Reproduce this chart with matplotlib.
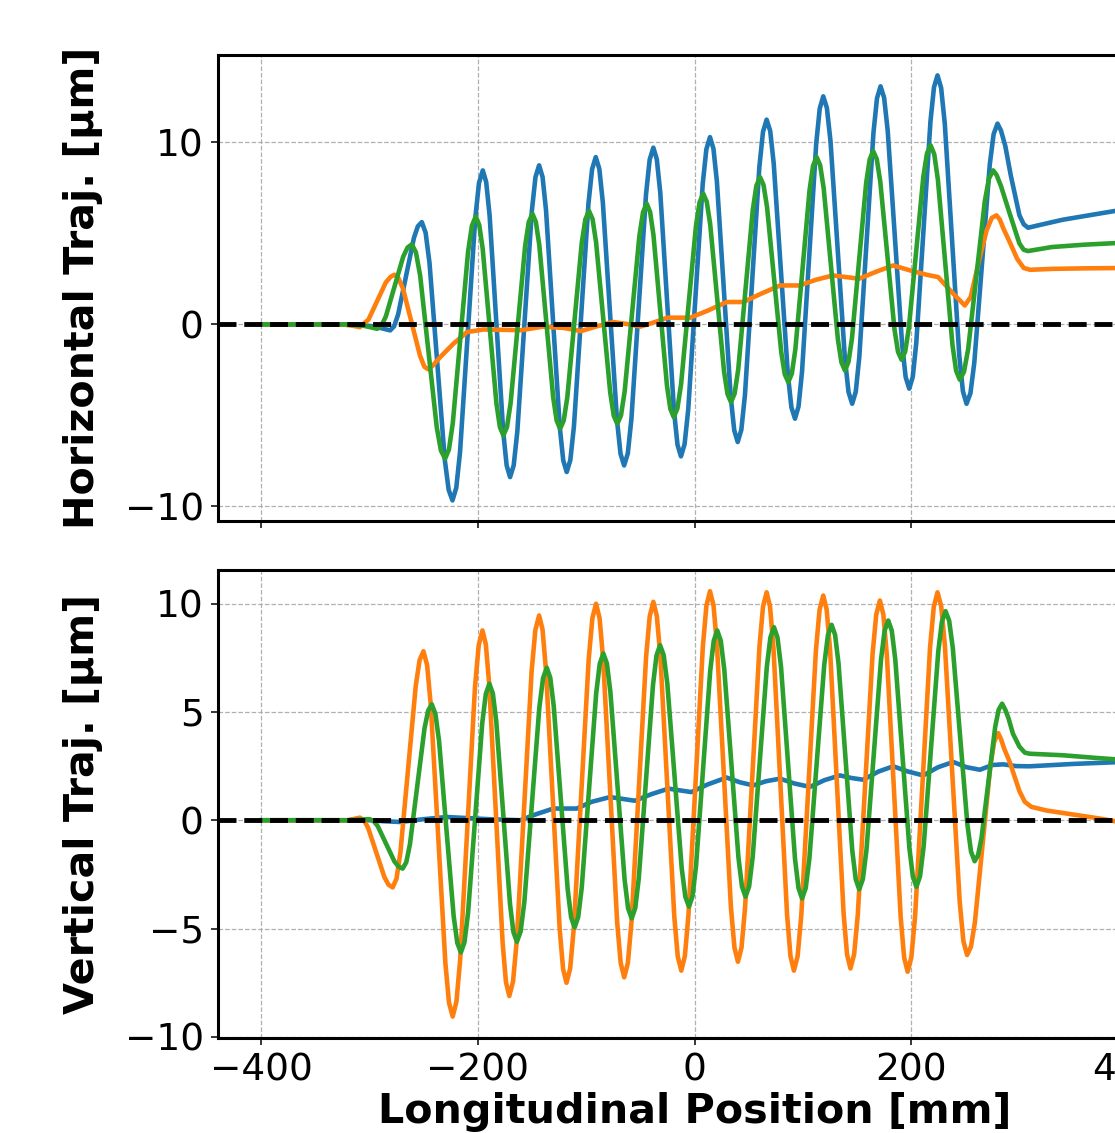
import numpy as np
import matplotlib
matplotlib.use("Agg")
import matplotlib.pyplot as plt

# ---------------- data ----------------
# Horizontal trajectory [um] vs longitudinal position [mm]
h_blue = [(-400, 0), (-330, 0), (-310, -0.02), (-295, -0.12), (-281, -0.33), (-277.35, -0.10), (-273.7, 0.54),
          (-266.4, 2.65), (-259.1, 4.75), (-255.45, 5.39), (-251.8, 5.62), (-248.3, 5.04), (-244.7, 3.38),
          (-237.65, -2.03), (-230.6, -7.43), (-227.0, -9.09), (-223.5, -9.67), (-220.0, -8.98), (-216.5, -7.01),
          (-209.5, -0.61), (-202.5, 5.80), (-199.0, 7.77), (-195.5, 8.46), (-192.35, 7.82), (-189.2, 5.99),
          (-182.9, 0.04), (-176.6, -5.92), (-173.45, -7.75), (-170.3, -8.39), (-166.95, -7.74), (-163.6, -5.88),
          (-156.9, 0.18), (-150.2, 6.23), (-146.85, 8.09), (-143.5, 8.74), (-140.3, 8.10), (-137.1, 6.27),
          (-130.75, 0.32), (-124.4, -5.64), (-121.2, -7.47), (-118, -8.11), (-114.65, -7.45), (-111.3, -5.58),
          (-104.6, 0.54), (-97.9, 6.66), (-94.55, 8.53), (-91.2, 9.19), (-87.9, 8.55), (-84.65, 6.71),
          (-78.1, 0.72), (-71.55, -5.27), (-68.3, -7.11), (-65, -7.75), (-61.6, -7.09), (-58.25, -5.19),
          (-51.5, 0.98), (-44.75, 7.15), (-41.4, 9.05), (-38, 9.71), (-34.8, 9.07), (-31.6, 7.23),
          (-25.25, 1.23), (-18.9, -4.77), (-15.7, -6.61), (-12.5, -7.25), (-9.15, -6.58), (-5.8, -4.68),
          (0.9, 1.52), (7.6, 7.72), (10.95, 9.62), (14.3, 10.29), (17.5, 9.65), (20.7, 7.84), (27.1, 1.92),
          (33.5, -4.01), (36.7, -5.82), (39.9, -6.46), (43.25, -5.79), (46.6, -3.87), (53.25, 2.40), (59.9, 8.66),
          (63.25, 10.58), (66.6, 11.25), (69.9, 10.63), (73.15, 8.84), (79.7, 3.04), (86.25, -2.77),
          (89.5, -4.56), (92.8, -5.18), (96.05, -4.51), (99.3, -2.59), (105.85, 3.68), (112.4, 9.94),
          (115.65, 11.86), (118.9, 12.53), (122.25, 11.89), (125.6, 10.06), (132.25, 4.09), (138.9, -1.89),
          (142.25, -3.72), (145.6, -4.36), (148.9, -3.70), (152.15, -1.81), (158.7, 4.36), (165.25, 10.53),
          (168.5, 12.42), (171.8, 13.08), (175.1, 12.45), (178.4, 10.65), (185.05, 4.78), (191.7, -1.10),
          (195.0, -2.90), (198.3, -3.53), (201.55, -2.88), (204.8, -1.01), (211.35, 5.08), (217.9, 11.16),
          (221.15, 13.03), (224.4, 13.68), (227.75, 12.99), (231.1, 11.04), (237.8, 4.66), (244.5, -1.72),
          (247.85, -3.67), (251.2, -4.36), (254.8, -3.78), (258.35, -2.11), (265.5, 3.34), (272.65, 8.78),
          (276.2, 10.45), (279.8, 11.03), (283, 10.65), (287, 9.8), (292, 8.2), (300, 6.0), (304, 5.5),
          (308, 5.31), (318, 5.45), (340, 5.75), (370, 6.05), (400, 6.35)]

h_orange = [(-400, 0), (-325, 0), (-315, -0.08), (-309, -0.15), (-301, 0.27), (-293, 1.29), (-285, 2.31),
            (-280.5, 2.62), (-277, 2.73), (-273.5, 2.55), (-269.2, 1.97), (-261.35, 0.13), (-253.5, -1.71),
            (-249.4, -2.33), (-245.7, -2.47), (-241.5, -2.25), (-234.9, -1.8), (-222.6, -1.06), (-210, -0.42),
            (-195, -0.28), (-175, -0.3), (-160, -0.32), (-140, -0.12), (-120, -0.2), (-105, -0.37), (-90, -0.1),
            (-75, 0.13), (-60, 0.0), (-50, -0.12), (-38, 0.1), (-25, 0.37), (-4, 0.37), (12, 0.75), (29.7, 1.23),
            (45, 1.23), (62, 1.7), (79, 2.14), (97, 2.14), (112, 2.45), (128, 2.69), (152, 2.51), (168, 2.9),
            (183.5, 3.24), (200, 2.95), (215, 2.72), (225, 2.6), (238.9, 1.69), (249.6, 1.04), (255, 1.5),
            (263.5, 3.7), (269.7, 5.16), (274.5, 5.85), (278.9, 5.99), (282, 5.75), (285, 5.3), (292, 4.4),
            (298, 3.6), (304, 3.1), (310, 3.0), (330, 3.05), (360, 3.08), (400, 3.1)]

h_green = [(-400, 0), (-320, 0), (-305, -0.08), (-293, -0.24), (-289, -0.06), (-285, 0.44), (-277, 2.08),
           (-269, 3.72), (-265, 4.22), (-261, 4.40), (-257.2, 3.95), (-253.3, 2.67), (-245.65, -1.49),
           (-238, -5.65), (-234.15, -6.93), (-230.3, -7.38), (-226.75, -6.87), (-223.2, -5.43), (-216.15, -0.73),
           (-209.1, 3.98), (-205.55, 5.42), (-202, 5.93), (-198.8, 5.47), (-195.6, 4.17), (-189.25, -0.09),
           (-182.9, -4.34), (-179.7, -5.64), (-176.5, -6.10), (-173.15, -5.64), (-169.8, -4.32), (-163.1, -0.01),
           (-156.4, 4.30), (-153.05, 5.62), (-149.7, 6.08), (-146.5, 5.63), (-143.3, 4.35), (-136.9, 0.18),
           (-130.5, -4.0), (-127.3, -5.28), (-124.1, -5.73), (-120.75, -5.28), (-117.4, -3.98), (-110.75, 0.25),
           (-104.1, 4.48), (-100.75, 5.78), (-97.4, 6.23), (-94.15, 5.79), (-90.9, 4.52), (-84.35, 0.39),
           (-77.8, -3.75), (-74.55, -5.02), (-71.3, -5.46), (-67.9, -5.00), (-64.5, -3.69), (-57.7, 0.59),
           (-50.9, 4.86), (-47.5, 6.17), (-44.1, 6.63), (-41.0, 6.18), (-37.9, 4.91), (-31.65, 0.77),
           (-25.4, -3.37), (-22.3, -4.64), (-19.2, -5.09), (-15.8, -4.62), (-12.4, -3.29), (-5.55, 1.05),
           (1.3, 5.38), (4.7, 6.71), (8.1, 7.18), (11.3, 6.74), (14.5, 5.50), (20.9, 1.46), (27.3, -2.59),
           (30.5, -3.83), (33.7, -4.27), (37.05, -3.80), (40.4, -2.46), (47.1, 1.91), (53.8, 6.28), (57.15, 7.62),
           (60.5, 8.09), (63.75, 7.66), (67.0, 6.44), (73.55, 2.46), (80.1, -1.52), (83.35, -2.74), (86.6, -3.17),
           (89.9, -2.70), (93.15, -1.36), (99.7, 3.01), (106.25, 7.38), (109.5, 8.72), (112.8, 9.19),
           (116.05, 8.74), (119.3, 7.47), (125.85, 3.33), (132.4, -0.81), (135.65, -2.08), (138.9, -2.53),
           (142.15, -2.07), (145.4, -0.77), (151.95, 3.50), (158.5, 7.76), (161.75, 9.06), (165, 9.52),
           (168.3, 9.08), (171.55, 7.84), (178.1, 3.79), (184.65, -0.26), (187.9, -1.50), (191.2, -1.94),
           (194.55, -1.49), (197.9, -0.21), (204.6, 3.95), (211.3, 8.11), (214.65, 9.39), (218, 9.84),
           (221.4, 9.35), (224.75, 7.95), (231.5, 3.40), (238.25, -1.15), (241.6, -2.55), (245, -3.04),
           (248.85, -2.60), (252.7, -1.36), (260.4, 2.71), (268.1, 6.78), (271.95, 8.02), (275.8, 8.46),
           (279, 8.2), (283, 7.6), (291, 6.1), (300, 4.45), (304, 4.1), (308, 4.03), (330, 4.25), (360, 4.38),
           (400, 4.5)]

# Vertical trajectory [um] vs longitudinal position [mm]
v_blue = [(-400, 0), (-300, 0), (-285, -0.05), (-272, -0.08), (-250, 0.05), (-228.7, 0.15), (-210, 0.1),
          (-190, 0.05), (-161, 0.0), (-145, 0.3), (-130.3, 0.54), (-108.7, 0.54), (-95, 0.85), (-78, 1.07),
          (-55, 0.9), (-40, 1.2), (-24, 1.46), (-3, 1.3), (12, 1.65), (29.7, 1.97), (42, 1.75), (54.3, 1.61),
          (66, 1.8), (78.9, 1.92), (92, 1.7), (106.6, 1.54), (120, 1.85), (134.3, 2.07), (145, 1.95),
          (155.8, 1.87), (170, 2.25), (183.5, 2.49), (197, 2.25), (211.2, 2.07), (225, 2.45), (238.9, 2.69),
          (251, 2.45), (263.5, 2.33), (275, 2.55), (285, 2.58), (297, 2.5), (309.6, 2.49), (350, 2.6),
          (400, 2.7)]

v_orange = [(-400, 0), (-320, 0), (-309, 0.12), (-305.2, 0.0), (-301.4, -0.35), (-293.85, -1.49),
            (-286.3, -2.63), (-282.5, -2.98), (-278.7, -3.10), (-275.15, -2.69), (-271.6, -1.50), (-264.5, 2.35),
            (-257.4, 6.20), (-253.85, 7.39), (-250.3, 7.80), (-246.9, 7.16), (-243.55, 5.33), (-236.8, -0.63),
            (-230.05, -6.59), (-226.7, -8.42), (-223.3, -9.06), (-219.85, -8.38), (-216.4, -6.45),
            (-209.55, -0.15), (-202.7, 6.15), (-199.25, 8.08), (-195.8, 8.76), (-192.7, 8.12), (-189.6, 6.29),
            (-183.4, 0.33), (-177.2, -5.64), (-174.1, -7.47), (-171, -8.11), (-167.55, -7.44), (-164.1, -5.54),
            (-157.25, 0.67), (-150.4, 6.88), (-146.95, 8.78), (-143.5, 9.45), (-140.35, 8.81), (-137.2, 6.97),
            (-130.85, 0.98), (-124.5, -5.02), (-121.35, -6.86), (-118.2, -7.50), (-114.8, -6.84), (-111.4, -4.94),
            (-104.55, 1.25), (-97.7, 7.43), (-94.3, 9.33), (-90.9, 9.99), (-87.65, 9.33), (-84.4, 7.46),
            (-77.9, 1.37), (-71.4, -4.72), (-68.15, -6.59), (-64.9, -7.25), (-61.55, -6.59), (-58.2, -4.71),
            (-51.45, 1.42), (-44.7, 7.54), (-41.35, 9.42), (-38, 10.08), (-34.8, 9.43), (-31.55, 7.59),
            (-25.1, 1.57), (-18.65, -4.45), (-15.45, -6.29), (-12.2, -6.94), (-8.9, -6.27), (-5.6, -4.38),
            (1.05, 1.82), (7.7, 8.01), (11.0, 9.90), (14.3, 10.57), (17.55, 9.92), (20.75, 8.07), (27.2, 2.02),
            (33.65, -4.03), (36.9, -5.88), (40.1, -6.53), (43.4, -5.88), (46.7, -4.03), (53.35, 2.00),
            (60.0, 8.02), (63.3, 9.87), (66.6, 10.52), (69.75, 9.86), (72.9, 7.96), (79.2, 1.79), (85.5, -4.38),
            (88.65, -6.28), (91.8, -6.94), (95.2, -6.28), (98.6, -4.40), (105.35, 1.72), (112.1, 7.83),
            (115.5, 9.71), (118.9, 10.37), (122.05, 9.72), (125.2, 7.85), (131.45, 1.77), (137.7, -4.32),
            (140.85, -6.19), (144, -6.84), (147.4, -6.19), (150.8, -4.35), (157.6, 1.65), (164.4, 7.65),
            (167.8, 9.49), (171.2, 10.14), (174.4, 9.49), (177.6, 7.63), (184.0, 1.58), (190.4, -4.48),
            (193.6, -6.34), (196.8, -6.99), (200.25, -6.32), (203.7, -4.43), (210.6, 1.77), (217.5, 7.96),
            (220.95, 9.85), (224.4, 10.52), (227.8, 9.88), (231.2, 8.07), (238.05, 2.15), (244.9, -3.77),
            (248.3, -5.58), (251.7, -6.22), (255.3, -5.83), (258.9, -4.72), (266.05, -1.10), (273.2, 2.52),
            (276.8, 3.63), (280.4, 4.02), (283, 3.75), (286, 3.3), (291, 2.7), (300, 1.35), (305, 0.85),
            (311, 0.62), (325, 0.45), (343.5, 0.31), (374, 0.08), (400, -0.15)]

v_green = [(-400, 0), (-320, 0), (-300, 0.05), (-296.2, -0.04), (-292.4, -0.28), (-284.75, -1.09),
           (-277.1, -1.90), (-273.3, -2.14), (-269.5, -2.23), (-266.15, -1.94), (-262.8, -1.12), (-256.05, 1.56),
           (-249.3, 4.24), (-245.95, 5.06), (-242.6, 5.35), (-239.25, 4.91), (-235.9, 3.67), (-229.15, -0.38),
           (-222.4, -4.42), (-219.05, -5.66), (-215.7, -6.10), (-212.4, -5.63), (-209.1, -4.28), (-202.55, 0.10),
           (-196.0, 4.48), (-192.7, 5.83), (-189.4, 6.30), (-186.2, 5.85), (-183.05, 4.56), (-176.7, 0.35),
           (-170.35, -3.87), (-167.2, -5.16), (-164, -5.61), (-160.55, -5.13), (-157.1, -3.76), (-150.2, 0.72),
           (-143.3, 5.19), (-139.85, 6.56), (-136.4, 7.04), (-133.2, 6.58), (-130.0, 5.28), (-123.55, 1.05),
           (-117.1, -3.19), (-113.9, -4.49), (-110.7, -4.95), (-107.4, -4.47), (-104.1, -3.10), (-97.45, 1.38),
           (-90.8, 5.85), (-87.5, 7.22), (-84.2, 7.70), (-80.9, 7.24), (-77.65, 5.91), (-71.1, 1.59),
           (-64.55, -2.74), (-61.3, -4.07), (-58, -4.53), (-54.7, -4.05), (-51.45, -2.68), (-44.9, 1.78),
           (-38.35, 6.23), (-35.1, 7.60), (-31.8, 8.08), (-28.45, 7.62), (-25.1, 6.31), (-18.45, 2.05),
           (-11.8, -2.22), (-8.45, -3.53), (-5.1, -3.99), (-1.85, -3.51), (1.4, -2.12), (7.95, 2.39), (14.5, 6.89),
           (17.75, 8.28), (21, 8.76), (24.25, 8.29), (27.5, 6.96), (34.05, 2.62), (40.6, -1.73), (43.85, -3.06),
           (47.1, -3.53), (50.4, -3.06), (53.7, -1.71), (60.25, 2.69), (66.8, 7.09), (70.1, 8.44), (73.4, 8.91),
           (76.65, 8.43), (79.9, 7.08), (86.35, 2.65), (92.8, -1.78), (96.05, -3.13), (99.3, -3.61),
           (102.7, -3.13), (106.1, -1.76), (112.95, 2.71), (119.8, 7.17), (123.2, 8.54), (126.6, 9.02),
           (129.8, 8.56), (133.0, 7.23), (139.35, 2.92), (145.7, -1.40), (148.9, -2.73), (152.1, -3.19),
           (155.45, -2.72), (158.8, -1.37), (165.5, 3.02), (172.2, 7.40), (175.55, 8.75), (178.9, 9.22),
           (182.15, 8.75), (185.4, 7.42), (191.9, 3.08), (198.4, -1.27), (201.65, -2.60), (204.9, -3.07),
           (208.25, -2.59), (211.6, -1.21), (218.35, 3.29), (225.1, 7.79), (228.45, 9.17), (231.8, 9.65),
           (235.15, 9.21), (238.5, 7.96), (245.25, 3.88), (252.0, -0.20), (255.35, -1.45), (258.7, -1.89),
           (261.85, -1.61), (265.0, -0.83), (271.35, 1.75), (277.7, 4.32), (280.85, 5.10), (284, 5.38),
           (287, 5.1), (290, 4.7), (294, 4.0), (300, 3.4), (305, 3.12), (309.6, 3.07), (340, 3.0), (370, 2.88),
           (400, 2.77)]

x_ticks = [-400, -200, 0, 200, 400]
h_yticks = [-10, 0, 10]
v_yticks = [-10, -5, 0, 5, 10]
x_label = "Longitudinal Position [mm]"
h_label = "Horizontal Traj. [μm]"
v_label = "Vertical Traj. [μm]"

C_BLUE, C_ORANGE, C_GREEN = "#1f77b4", "#ff7f0e", "#2ca02c"

# ---------------- figure ----------------
W, H = 1115, 1133
fig = plt.figure(figsize=(W / 100, H / 100), dpi=100)

L, R = 218, 1171
ax1 = fig.add_axes([L / W, 1 - 521 / H, (R - L) / W, (521 - 55) / H])
ax2 = fig.add_axes([L / W, 1 - 1038 / H, (R - L) / W, (1038 - 570) / H], sharex=ax1)


def draw(ax, series):
    for pts, c in series:
        arr = np.array(pts, dtype=float)
        ax.plot(arr[:, 0], arr[:, 1], color=c, lw=3.3, zorder=2)
    ax.axhline(0, color="black", ls="--", lw=3.5, zorder=3)


draw(ax1, [(h_blue, C_BLUE), (h_orange, C_ORANGE), (h_green, C_GREEN)])
draw(ax2, [(v_blue, C_BLUE), (v_orange, C_ORANGE), (v_green, C_GREEN)])

ax1.set_xlim(-440, 440)
ax1.set_ylim(-10.8, 14.8)
ax2.set_ylim(-10.05, 11.55)
ax1.set_xticks(x_ticks)
ax1.set_yticks(h_yticks)
ax2.set_yticks(v_yticks)

for ax in (ax1, ax2):
    ax.grid(True, ls="--", color="#b0b0b0", lw=0.9)
    ax.set_axisbelow(True)
    for s in ax.spines.values():
        s.set_linewidth(2.2)
        s.set_color("black")
    ax.tick_params(labelsize=27, length=4.8, width=1.1, pad=5.5)

ax1.tick_params(labelbottom=False)

ax1.set_ylabel(h_label, fontsize=29.7, fontweight="bold")
ax2.set_ylabel(v_label, fontsize=29.7, fontweight="bold")
ax1.yaxis.set_label_coords((103 - L) / (R - L), 0.5)
ax2.yaxis.set_label_coords((103 - L) / (R - L), 0.5)
ax2.set_xlabel(x_label, fontsize=29.7, fontweight="bold")
ax2.xaxis.set_label_coords(0.5, -(1092 - 1038) / (1038 - 570))

fig.savefig("out.png", dpi=100)
